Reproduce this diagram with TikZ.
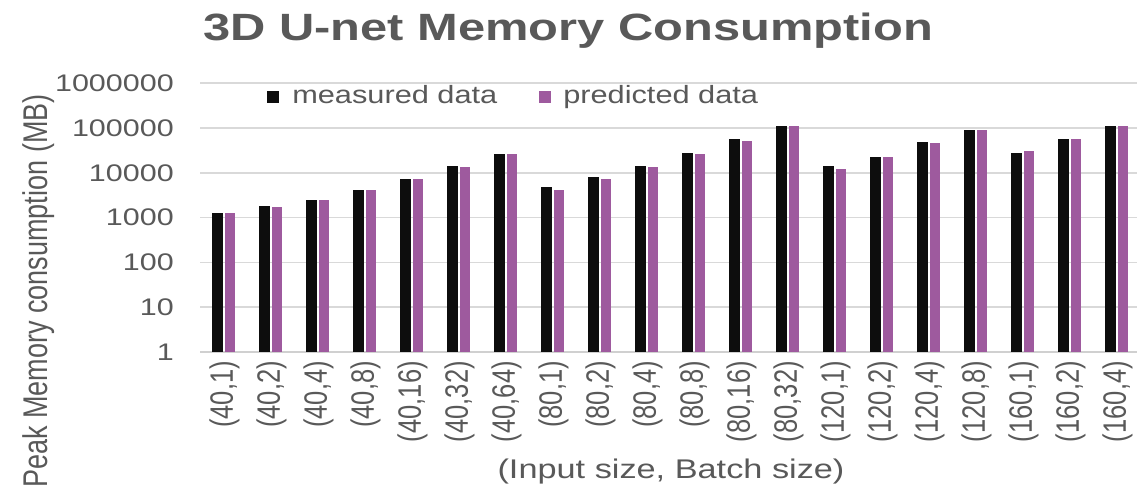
\documentclass[tikz,border=0pt]{standalone}
\usepackage{graphicx}
\usepackage{fontspec}
\setmainfont{Liberation Sans}
\definecolor{txtgray}{HTML}{595959}
\definecolor{gridgray}{HTML}{D9D9D9}
\definecolor{axisgray}{HTML}{D0D0D0}
\definecolor{measured}{HTML}{0D0D0D}
\definecolor{predicted}{HTML}{9E5A9E}
% widen glyphs across the reading direction of upright-turned labels
\newcommand\crosswide[1]{\scalebox{1}[1.27]{#1}}
\begin{document}
\begin{tikzpicture}[x=1pt,y=-1pt,
  lbl/.style={text=txtgray, inner sep=0pt, xscale=1.27},
  vlbl/.style={text=txtgray, inner sep=0pt, rotate=90},
  ticky/.style={lbl, font=\fontsize{24}{24}\selectfont, anchor=east},
  tickx/.style={vlbl, font=\fontsize{25.5}{25.5}\selectfont, anchor=east},
  axtitle/.style={lbl, font=\fontsize{27}{27}\selectfont},
  vaxtitle/.style={vlbl, font=\fontsize{27}{27}\selectfont},
  titletext/.style={text=txtgray, inner sep=0pt, xscale=1.285, font=\bfseries\fontsize{38}{38}\selectfont, anchor=base west},
  legtext/.style={text=txtgray, inner sep=0pt, xscale=1.23, font=\fontsize{25}{25}\selectfont, anchor=base west},
  gridline/.style={draw=gridgray, line width=1.5pt},
  axisline/.style={draw=axisgray, line width=1.5pt},
  mbar/.style={fill=measured},
  pbar/.style={fill=predicted}]
\useasboundingbox (0,0) rectangle (1137,493);
\fill[white] (0,0) rectangle (1137,493);

% title
\node[titletext] (title) at (203,40) {3D U-net Memory Consumption};

% logarithmic grid, one line per decade
\foreach \k in {1,...,6}
  \draw[gridline] ({200},{352-44.8*\k}) -- ({1137},{352-44.8*\k});
\draw[axisline] (200,352) -- (1137,352);

% y tick labels
\foreach \k/\t in {0/1,1/10,2/100,3/1000,4/10000,5/100000,6/1000000}
  \node[ticky] (yt\k) at ({174},{352-44.8*\k}) {\t};

% bars (values in thousands of MB) and category labels
\foreach \m/\p/\a/\b [count=\i from 0] in {
  1.25/1.25/40/1, 1.8/1.7/40/2, 2.5/2.5/40/4, 4.1/4.1/40/8,
  7.1/7.1/40/16, 14/13.3/40/32, 26/26/40/64,
  4.7/4.1/80/1, 8.2/7.2/80/2, 14.2/13.2/80/4, 28/26.3/80/8,
  56/52/80/16, 111/111/80/32,
  14.2/12.3/120/1, 23/23/120/2, 48.7/45.5/120/4, 90/90/120/8,
  28/30/160/1, 56/56/160/2, 111/111/160/4}{
  \pgfmathsetmacro\cx{223.5+47*\i}
  \pgfmathsetmacro\ym{352-44.8*(3+log10(\m))}
  \pgfmathsetmacro\yp{352-44.8*(3+log10(\p))}
  \fill[mbar] ({\cx-11.5},352) rectangle ({\cx-1},\ym);
  \fill[pbar] ({\cx+1},352) rectangle ({\cx+11.5},\yp);
  \node[tickx] (xt\i) at ({\cx+1},361) {\crosswide{(\a,\b)}};
}

% axis titles
\node[vaxtitle, anchor=base] (ytitle) at (47,291) {\crosswide{Peak Memory consumption (MB)}};
\node[axtitle, anchor=base] (xtitle) at (671,478) {(Input size, Batch size)};

% legend
\fill[mbar] (267,91) rectangle (279,103);
\node[legtext] (legm) at (292,103) {measured data};
\fill[pbar] (539,91) rectangle (551,103);
\node[legtext] (legp) at (563,103) {predicted data};
\end{tikzpicture}
\end{document}
